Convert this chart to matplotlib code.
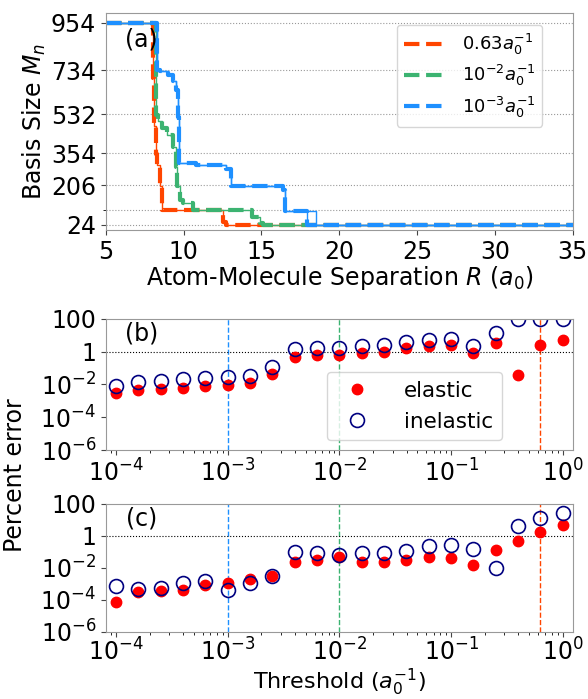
import matplotlib
matplotlib.use('Agg')
from matplotlib import pyplot as plt
from matplotlib import ticker

# ---- panel (a): basis size vs separation (step curves)
R_red = [5.0, 8.05, 8.12, 8.2, 8.3, 8.45, 8.58, 12.55, 12.75, 35.0]
M_red = [954, 700, 480, 350, 300, 200, 94, 35, 24, 24]

R_grn = [5.0, 8.21, 8.36, 8.6, 8.9, 9.33, 9.5, 9.6, 9.75, 9.97, 10.6, 12.5, 14.4, 14.9, 15.1, 35.0]
M_grn = [954, 528, 500, 468, 437, 380, 291, 200, 138, 123, 94, 90, 60, 31, 24, 24]

R_blu = [5.0, 8.3, 8.47, 9.0, 9.32, 9.54, 9.62, 9.69, 10.8, 12.75, 13.07, 16.4, 16.5, 17.9, 35.0]
M_blu = [954, 736, 732, 713, 683, 644, 521, 307, 299, 279, 202, 184, 87, 24, 24]
# thin solid version of the blue curve (stays on the 87 level a bit longer)
R_blu_thin = [5.0, 8.3, 8.47, 9.0, 9.32, 9.54, 9.62, 9.69, 10.8, 12.75, 13.07, 16.4, 16.5, 18.5, 35.0]
M_blu_thin = [954, 736, 732, 713, 683, 644, 521, 307, 299, 279, 202, 184, 87, 24, 24]

basis_ticks = [24, 206, 354, 532, 734, 954]

# ---- panels (b), (c): percent error vs threshold
threshold = [1.0e-4, 1.58e-4, 2.51e-4, 3.98e-4, 6.31e-4,
             1.0e-3, 1.58e-3, 2.51e-3, 3.98e-3, 6.31e-3,
             1.0e-2, 1.58e-2, 2.51e-2, 3.98e-2, 6.31e-2,
             1.0e-1, 1.58e-1, 2.51e-1, 3.98e-1, 6.31e-1, 1.0]

# log10 of percent error
b_elastic_log = [-2.54, -2.34, -2.29, -2.21, -2.09, -2.03, -1.93, -1.36, -0.34, -0.20,
                 -0.20, -0.10, -0.04, 0.21, 0.35, 0.41, -0.10, 0.51, -1.42, 0.41, 0.71]
b_inelastic_log = [-2.07, -1.83, -1.77, -1.68, -1.58, -1.54, -1.46, -0.91, 0.15, 0.24,
                   0.21, 0.35, 0.41, 0.61, 0.71, 0.75, 0.35, 1.12, 2.0, 2.0, 2.0]
c_elastic_log = [-4.12, -3.52, -3.47, -3.41, -3.07, -2.97, -2.71, -2.50, -1.60, -1.50,
                 -1.29, -1.60, -1.60, -1.50, -1.33, -1.35, -1.80, -0.89, -0.32, 0.22, 0.69]
c_inelastic_log = [-3.15, -3.31, -3.25, -2.95, -2.81, -3.41, -2.95, -2.50, -1.03, -1.09,
                   -1.19, -1.05, -1.05, -0.93, -0.63, -0.59, -0.79, -2.00, 0.63, 1.13, 1.44]

chosen = [0.631, 1e-2, 1e-3]
colors = ['orangered', 'mediumseagreen', 'dodgerblue']
labels = [r'$0.63a_0^{-1}$', r'$10^{-2}a_0^{-1}$', r'$10^{-3}a_0^{-1}$']

fs = 17
plt.rcParams['font.size'] = fs

fig = plt.figure(figsize=(5.88, 6.99), dpi=100)
ax1 = fig.add_axes([0.180, 0.671, 0.794, 0.311])
ax2 = fig.add_axes([0.180, 0.356, 0.794, 0.188])
ax3 = fig.add_axes([0.180, 0.096, 0.794, 0.183])

for ax in (ax1, ax2, ax3):
    for s in ax.spines.values():
        s.set_color('#999999')
    ax.tick_params(colors='#444444', labelcolor='black', labelsize=fs)

# panel (a)
curves = [(R_red, M_red), (R_grn, M_grn), (R_blu, M_blu)]
for (r, m), c in zip(curves, colors):
    ax1.plot(r, m, drawstyle='steps-post', color=c, lw=1.0)
for (r, m), c, lab in zip(curves, colors, labels):
    ax1.plot(r, m, drawstyle='steps-post', color=c, lw=3, ls='--', label=lab)
ax1.plot(R_blu_thin, M_blu_thin, drawstyle='steps-post', color=colors[2], lw=1.0)

ax1.set_xlim(5, 35)
ax1.set_ylim(0, 1000)
ax1.set_yticks(basis_ticks)
ax1.set_yticks([90], minor=True)
ax1.yaxis.grid(True, which='both', ls=':', color='#999999', lw=0.8)
ax1.set_xticks([5, 10, 15, 20, 25, 30, 35])
ax1.set_xlabel(r'Atom-Molecule Separation $R$ ($a_0$)', fontsize=fs, labelpad=0)
ax1.set_ylabel(r'Basis Size $M_n$', fontsize=fs, labelpad=2)
ax1.text(0.077, 0.875, '(a)', transform=ax1.transAxes, fontsize=fs,
         ha='center', va='center')
ax1.legend(loc='upper right', bbox_to_anchor=(0.935, 0.945), borderaxespad=0,
           fontsize=13, handlelength=2.4, labelspacing=0.35)

# panels (b) and (c)
panels = [(ax2, b_elastic_log, b_inelastic_log, '(b)'),
          (ax3, c_elastic_log, c_inelastic_log, '(c)')]
for ax, el, inel, tag in panels:
    for t, c in zip(chosen, colors):
        ax.axvline(t, color=c, ls='--', lw=1)
    ax.axhline(1, color='black', ls=':', lw=0.8)
    ax.plot(threshold, [10 ** v for v in el], 'o', color='red', ms=7.5,
            ls='none', label='elastic')
    ax.plot(threshold, [10 ** v for v in inel], 'o', mfc='none', mec='navy',
            mew=1.2, ms=10, ls='none', label='inelastic')
    ax.set_xscale('log')
    ax.set_yscale('log')
    ax.set_xlim(8.1e-5, 1.23)
    ax.set_ylim(1e-6, 100)
    ax.yaxis.set_major_locator(ticker.FixedLocator([1e2, 1, 1e-2, 1e-4, 1e-6]))
    ax.yaxis.set_major_formatter(ticker.FixedFormatter(
        ['100', '1', r'$10^{-2}$', r'$10^{-4}$', r'$10^{-6}$']))
    ax.yaxis.set_minor_locator(ticker.NullLocator())
    ax.text(0.076, 0.885, tag, transform=ax.transAxes, fontsize=fs,
            ha='center', va='center')

ax2.legend(loc='lower left', bbox_to_anchor=(0.473, 0.076), borderaxespad=0,
           fontsize=15.5, handletextpad=1.2)
ax3.tick_params(axis='x', which='major', pad=1.5)
ax3.set_xlabel(r'Threshold ($a_0^{-1}$)', fontsize=16, va='bottom')
ax3.xaxis.set_label_coords(0.5, -0.515)
fig.text(0.025, 0.32, 'Percent error', rotation=90, ha='center', va='center',
         fontsize=fs)

plt.savefig('out.png', dpi=100)
